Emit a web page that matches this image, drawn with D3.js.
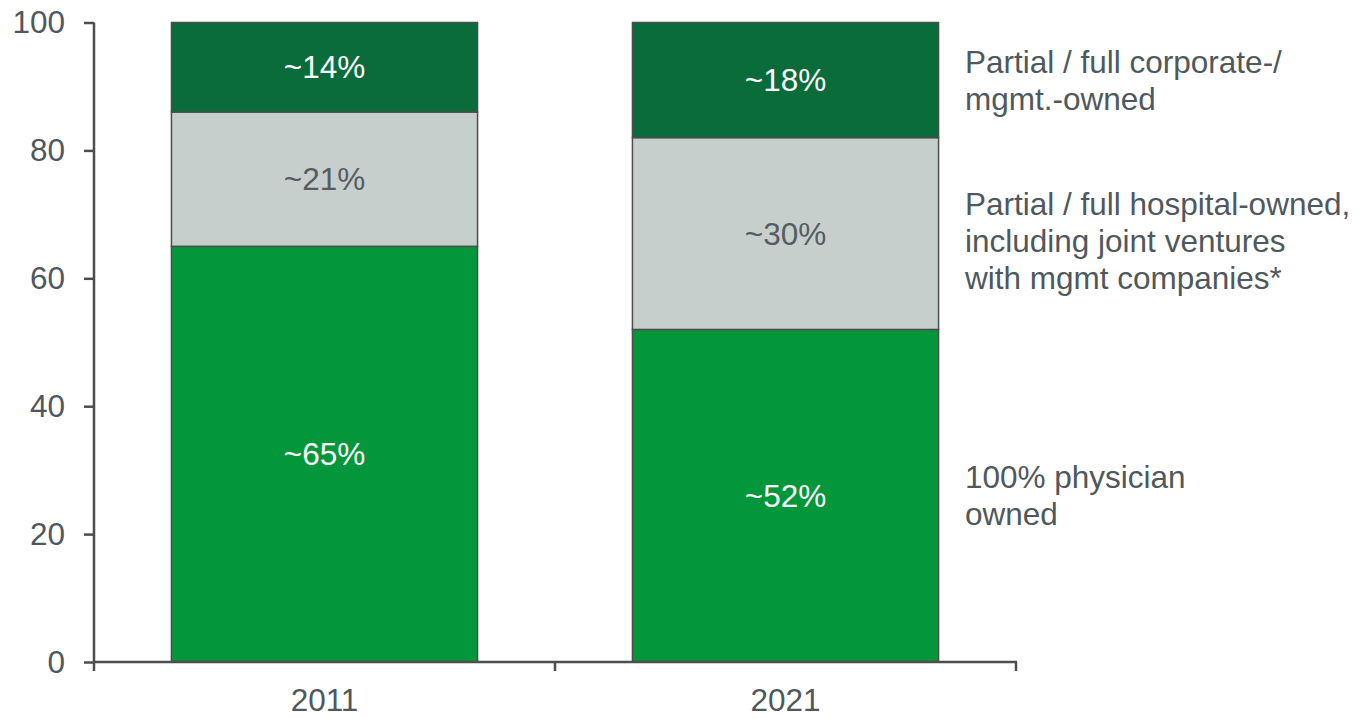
<!DOCTYPE html>
<html>
<head>
<meta charset="utf-8">
<script src="https://cdn.jsdelivr.net/npm/d3@7"></script>
<style>
  body { margin: 0; background: #fff; }
  text { font-family: "Liberation Sans", Arial, sans-serif; }
</style>
</head>
<body>
<div id="chart"></div>
<script>
const years = ["2011", "2021"];
const physician = [65, 52];
const hospital = [21, 30];
const corporate = [14, 18];
const yTicks = [0, 20, 40, 60, 80, 100];
const legendPhysician = ["100% physician", "owned"];
const legendHospital = ["Partial / full hospital-owned,", "including joint ventures", "with mgmt companies*"];
const legendCorporate = ["Partial / full corporate-/", "mgmt.-owned"];

const width = 1359, height = 718;
const plotLeft = 94, plotRight = 1016, plotTop = 22.5, plotBottom = 662;
const axisColor = "#4d4d4d";
const textColor = "#4f585d";
const fontSize = 31.5;

const keys = ["physician", "hospital", "corporate"];
const colors = { physician: "#03963a", hospital: "#c6cfcc", corporate: "#0a6b3b" };
const labelColors = { physician: "#ffffff", hospital: "#555d62", corporate: "#ffffff" };
const legends = { physician: legendPhysician, hospital: legendHospital, corporate: legendCorporate };

const rows = years.map((yr, i) => ({
  year: yr,
  physician: physician[i],
  hospital: hospital[i],
  corporate: corporate[i]
}));

const svg = d3.select("#chart").append("svg")
  .attr("width", width)
  .attr("height", height);

const x = d3.scaleBand()
  .domain(years)
  .range([plotLeft, plotRight])
  .paddingInner(0.336)
  .paddingOuter(0.168);

const y = d3.scaleLinear().domain([0, 100]).range([plotBottom, plotTop]);

const stacked = d3.stack().keys(keys)(rows);

// bars
const layer = svg.selectAll("g.layer")
  .data(stacked)
  .join("g")
  .attr("class", "layer");

layer.selectAll("rect")
  .data(d => d.map(p => ({ key: d.key, p })))
  .join("rect")
  .attr("x", d => x(d.p.data.year))
  .attr("width", x.bandwidth())
  .attr("y", d => y(d.p[1]))
  .attr("height", d => y(d.p[0]) - y(d.p[1]))
  .attr("fill", d => colors[d.key])
  .attr("stroke", axisColor)
  .attr("stroke-width", 1.5);

// segment labels
layer.selectAll("text")
  .data(d => d.map(p => ({ key: d.key, p })))
  .join("text")
  .attr("x", d => x(d.p.data.year) + x.bandwidth() / 2)
  .attr("y", d => (y(d.p[0]) + y(d.p[1])) / 2)
  .attr("dy", "0.35em")
  .attr("text-anchor", "middle")
  .attr("font-size", fontSize)
  .attr("fill", d => labelColors[d.key])
  .text(d => "~" + (d.p[1] - d.p[0]) + "%");

// y axis
const yAxis = svg.append("g")
  .attr("transform", `translate(${plotLeft},0)`)
  .call(d3.axisLeft(y).tickValues(yTicks).tickSize(10).tickPadding(19));
yAxis.select(".domain").remove();
yAxis.selectAll(".tick line").attr("stroke", axisColor).attr("stroke-width", 2.5);
yAxis.selectAll(".tick text")
  .attr("font-size", fontSize)
  .attr("fill", textColor)
  .attr("font-family", "Liberation Sans, Arial, sans-serif");

svg.append("line")
  .attr("x1", plotLeft).attr("x2", plotLeft)
  .attr("y1", plotTop).attr("y2", plotBottom)
  .attr("stroke", axisColor).attr("stroke-width", 2.5);

// x axis
svg.append("line")
  .attr("x1", plotLeft - 1).attr("x2", plotRight + 1)
  .attr("y1", plotBottom).attr("y2", plotBottom)
  .attr("stroke", axisColor).attr("stroke-width", 2.5);

const step = x.step();
const boundaries = [plotLeft].concat(years.map(d => x(d) + x.bandwidth() + step * x.paddingInner() / 2));
svg.selectAll("line.xtick")
  .data(boundaries)
  .join("line")
  .attr("class", "xtick")
  .attr("x1", d => d).attr("x2", d => d)
  .attr("y1", plotBottom).attr("y2", plotBottom + 9)
  .attr("stroke", axisColor).attr("stroke-width", 2.5);

svg.selectAll("text.xlabel")
  .data(years)
  .join("text")
  .attr("class", "xlabel")
  .attr("x", d => x(d) + x.bandwidth() / 2)
  .attr("y", 700)
  .attr("dy", "0.35em")
  .attr("text-anchor", "middle")
  .attr("font-size", fontSize)
  .attr("fill", textColor)
  .text(d => d);

// legend next to the last bar
const last = stacked.map(s => ({ key: s.key, p: s[s.length - 1] }));
const lineH = 37;
const legend = svg.selectAll("text.legend")
  .data(last)
  .join("text")
  .attr("class", "legend")
  .attr("x", 965)
  .attr("y", d => (y(d.p[0]) + y(d.p[1])) / 2 - (legends[d.key].length - 1) * lineH / 2 + (d.key === "hospital" ? 7 : 0))
  .attr("font-size", fontSize)
  .attr("fill", textColor);

legend.selectAll("tspan")
  .data(d => legends[d.key])
  .join("tspan")
  .attr("x", 965)
  .attr("dy", (d, i) => i === 0 ? "0.35em" : lineH)
  .text(d => d);
</script>
</body>
</html>
